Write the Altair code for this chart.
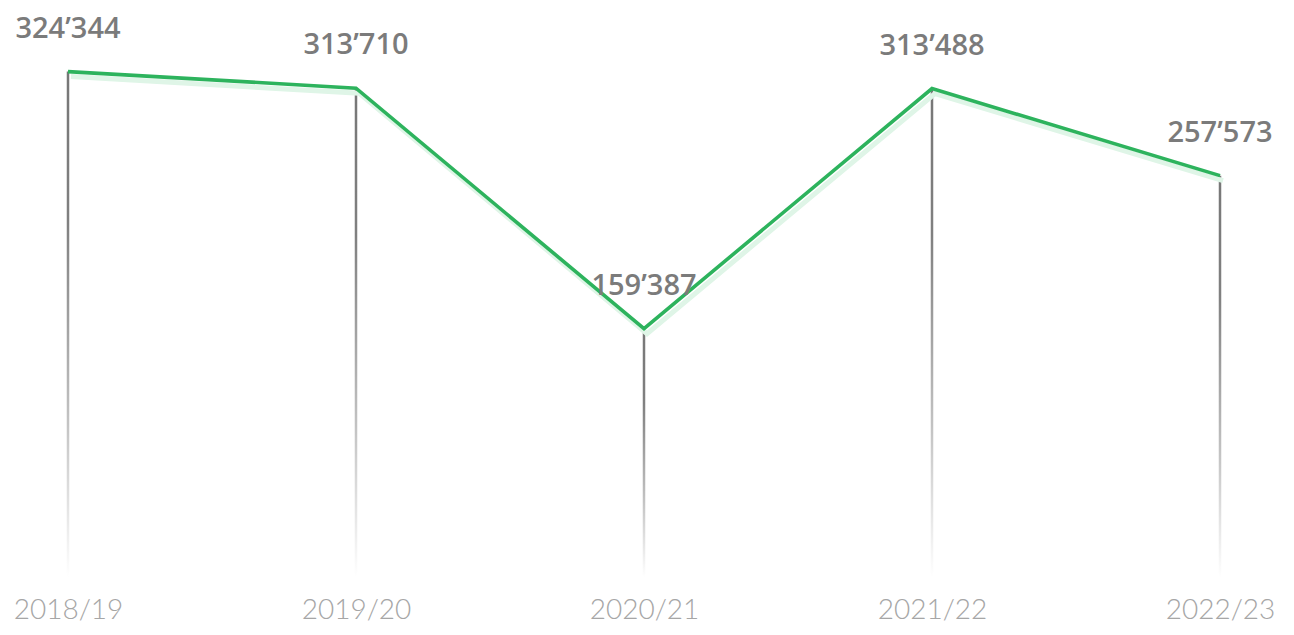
import altair as alt
import pandas as pd

seasons = ["2018/19", "2019/20", "2020/21", "2021/22", "2022/23"]
values = [324344, 313710, 159387, 313488, 257573]
labels = ["324’344", "313’710", "159’387", "313’488", "257’573"]

df = pd.DataFrame({"season": seasons, "value": values, "label": labels})

x = alt.X("season:N", sort=seasons,
          scale=alt.Scale(type="point", padding=0),
          axis=alt.Axis(title=None, ticks=False, domain=False, labelAngle=0,
                        labelFontSize=28, labelFont="Lato", labelFontWeight=300,
                        labelColor="#a6a6a6", labelPadding=41,
                        labelBaseline="alphabetic", grid=False))
y = alt.Y("value:Q", scale=alt.Scale(domain=[0, 335000], nice=False, zero=True),
          axis=None)

base = alt.Chart(df)

rules = base.mark_bar(
    size=2.5,
    color=alt.Gradient(
        gradient="linear",
        stops=[alt.GradientStop(color="#777777", offset=0),
               alt.GradientStop(color="#808080", offset=0.3),
               alt.GradientStop(color="#c4c4c4", offset=0.7),
               alt.GradientStop(color="#ffffff", offset=1)],
        x1=0, x2=0, y1=0, y2=1),
).encode(x=x, y=y)

shadow = base.mark_line(color="#dff5e7", strokeWidth=5, xOffset=3, yOffset=5).encode(x=x, y=y)
line = base.mark_line(color="#2db35d", strokeWidth=3.6).encode(x=x, y=y)

text = base.mark_text(dy=-34, baseline="alphabetic", fontSize=29, font="Open Sans",
                      fontWeight=600, color="#7b7b7b").encode(x=x, y=y, text="label:N")

chart = alt.layer(rules, shadow, line, text).properties(
    width=1152, height=522,
    padding={"left": 60, "top": 47, "right": 66, "bottom": 50},
    autosize=alt.AutoSizeParams(type="none"),
).configure_view(stroke=None)

chart.save("out.html", embed_options={"renderer": "svg", "actions": False})
